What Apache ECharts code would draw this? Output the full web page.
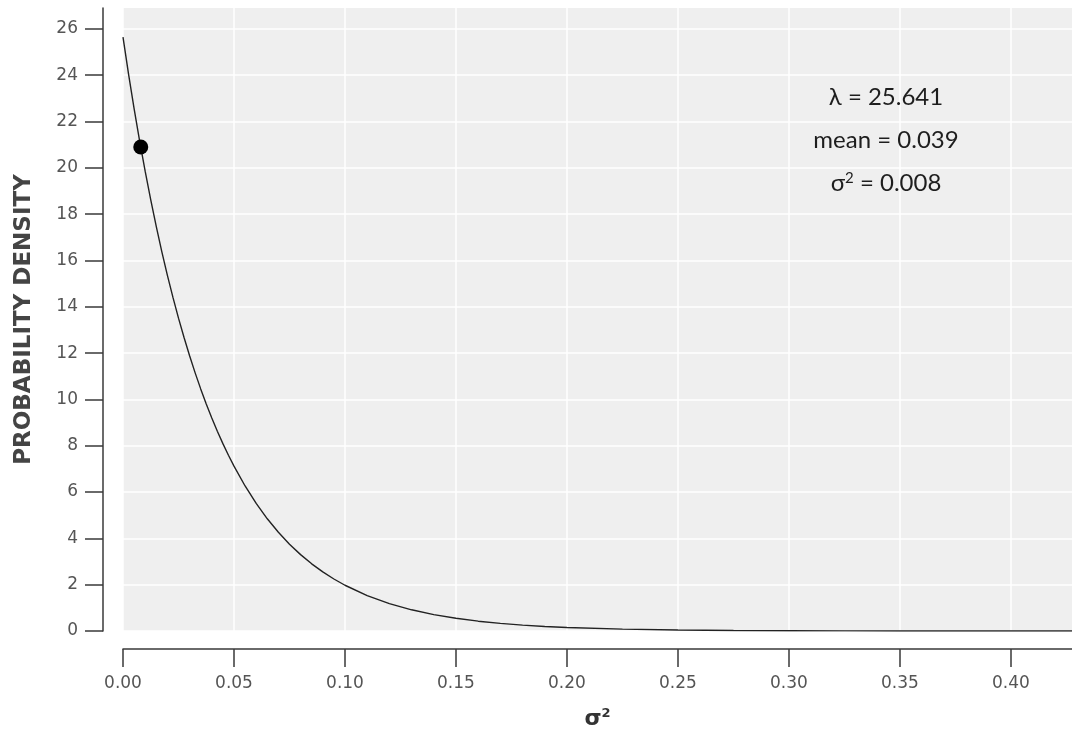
<!DOCTYPE html>
<html>
<head>
<meta charset="utf-8">
<script src="https://cdn.jsdelivr.net/npm/echarts@6/dist/echarts.min.js"></script>
<style>
  html, body { margin: 0; padding: 0; background: #ffffff; }
  #chart { width: 1072px; height: 734px; }
</style>
</head>
<body>
<div id="chart"></div>
<script>
// Exponential density curve: sampled sigma^2 values and their density
const curveX = [0, 0.0025, 0.005, 0.0075, 0.01, 0.0125, 0.015, 0.0175, 0.02, 0.0225, 0.025,
  0.0275, 0.03, 0.0325, 0.035, 0.0375, 0.04, 0.0425, 0.045, 0.0475, 0.05,
  0.055, 0.06, 0.065, 0.07, 0.075, 0.08, 0.085, 0.09, 0.095, 0.10,
  0.11, 0.12, 0.13, 0.14, 0.15, 0.16, 0.17, 0.18, 0.19, 0.20,
  0.225, 0.25, 0.275, 0.30, 0.325, 0.35, 0.375, 0.40, 0.4275];
const curveY = [25.641, 24.049, 22.556, 21.156, 19.843, 18.611, 17.456, 16.372, 15.356, 14.403, 13.509,
  12.670, 11.884, 11.146, 10.454, 9.805, 9.196, 8.625, 8.090, 7.588, 7.117,
  6.261, 5.508, 4.845, 4.262, 3.749, 3.298, 2.901, 2.552, 2.245, 1.975,
  1.528, 1.183, 0.915, 0.708, 0.548, 0.424, 0.328, 0.254, 0.197, 0.152,
  0.080, 0.042, 0.022, 0.012, 0.006, 0.003, 0.002, 0.001, 0.0004];

// Highlighted point on the curve
const pointX = [0.008];
const pointY = [20.9];

// Axis ticks
const xTicks = [0, 0.05, 0.10, 0.15, 0.20, 0.25, 0.30, 0.35, 0.40];
const xTickLabels = ['0.00', '0.05', '0.10', '0.15', '0.20', '0.25', '0.30', '0.35', '0.40'];
const yTicks = [0, 2, 4, 6, 8, 10, 12, 14, 16, 18, 20, 22, 24, 26];

// Distribution summary
const statNames = ['λ', 'mean', 'σ'];
const statSup = ['', '', '2'];
const statValues = ['25.641', '0.039', '0.008'];

const chart = echarts.init(document.getElementById('chart'));

const axisColor = '#3a3a3a';
const labelColor = '#555555';
const statFont = 'Lato, "Open Sans", sans-serif';

const curveData = curveX.map((x, i) => [x, curveY[i]]);
const pointData = pointX.map((x, i) => [x, pointY[i]]);

const statTexts = statNames.map((n, i) => ({
  type: 'text',
  x: 886,
  y: 97 + i * 43,
  z: 10,
  style: {
    text: '{t|' + n + '}' + (statSup[i] ? '{sup|' + statSup[i] + '}' : '') + '{t| = ' + statValues[i] + '}',
    align: 'center',
    verticalAlign: 'middle',
    rich: {
      t: { fontFamily: statFont, fontSize: 24, fill: '#1e1e1e', color: '#1e1e1e' },
      sup: { fontFamily: statFont, fontSize: 15, fill: '#1e1e1e', color: '#1e1e1e', verticalAlign: 'top', padding: [0, 0, 10, 0] }
    }
  }
}));

chart.setOption({
  animation: false,
  backgroundColor: '#ffffff',
  grid: {
    left: 123, right: 0, top: 8, bottom: 103,
    outerBoundsMode: 'none',
    containLabel: false,
    show: true,
    backgroundColor: '#efefef',
    borderWidth: 0
  },
  xAxis: {
    type: 'value',
    min: 0,
    max: 0.4275,
    offset: 18,
    name: '{s|σ}{sup|2}',
    nameLocation: 'middle',
    nameGap: 58,
    nameTextStyle: {
      rich: {
        s: { fontFamily: '"DejaVu Sans", sans-serif', fontSize: 22, fontWeight: 'bold', color: '#333' },
        sup: { fontFamily: '"DejaVu Sans", sans-serif', fontSize: 13, fontWeight: 'bold', color: '#333', verticalAlign: 'top', padding: [0, 0, 12, 0] }
      }
    },
    axisLine: { show: true, onZero: false, lineStyle: { color: axisColor, width: 1.5 } },
    axisTick: { show: true, length: 18, customValues: xTicks, lineStyle: { color: axisColor, width: 1.5 } },
    axisLabel: {
      customValues: xTicks,
      formatter: v => xTickLabels[xTicks.findIndex(t => Math.abs(t - v) < 1e-9)] ?? '',
      margin: 26,
      fontFamily: '"DejaVu Sans", sans-serif',
      fontSize: 17,
      color: labelColor
    },
    splitLine: { show: true, lineStyle: { color: '#ffffff', width: 1.5 } },
    interval: 0.05
  },
  yAxis: {
    type: 'value',
    min: 0,
    max: 26.9,
    interval: 2,
    offset: 20,
    name: 'PROBABILITY DENSITY',
    nameLocation: 'middle',
    nameGap: 67,
    nameTextStyle: {
      fontFamily: '"DejaVu Sans", sans-serif',
      fontSize: 23,
      fontWeight: 'bold',
      color: '#444444'
    },
    axisLine: { show: true, onZero: false, lineStyle: { color: axisColor, width: 1.5 } },
    axisTick: { show: true, length: 18, customValues: yTicks, lineStyle: { color: axisColor, width: 1.5 } },
    axisLabel: {
      customValues: yTicks,
      margin: 25,
      fontFamily: '"DejaVu Sans", sans-serif',
      fontSize: 17,
      color: labelColor
    },
    splitLine: { show: true, lineStyle: { color: '#ffffff', width: 1.5 } }
  },
  graphic: statTexts,
  series: [
    {
      type: 'line',
      data: curveData,
      smooth: false,
      showSymbol: false,
      lineStyle: { color: '#222222', width: 1.4 },
      z: 3
    },
    {
      type: 'scatter',
      data: pointData,
      symbolSize: 15,
      itemStyle: { color: '#000000', opacity: 1 },
      z: 4
    }
  ]
});
</script>
</body>
</html>
